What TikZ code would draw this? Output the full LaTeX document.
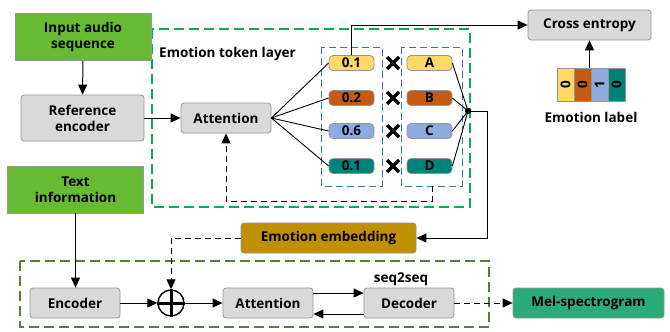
\documentclass[tikz,border=0pt]{standalone}
\usepackage{fontspec}
\setmainfont{Open Sans}
\usepackage{tikz}
\usetikzlibrary{positioning, arrows.meta}

\definecolor{inputgreen}{HTML}{66BB33}
\definecolor{boxgray}{HTML}{D9D9D9}
\definecolor{edgegray}{HTML}{959595}
\definecolor{layergreen}{HTML}{00B050}
\definecolor{seqgreen}{HTML}{548235}
\definecolor{dashblue}{HTML}{2E75B6}
\definecolor{embgold}{HTML}{BF9000}
\definecolor{melgreen}{HTML}{2BAA7A}
\definecolor{tokyellow}{HTML}{FFD966}
\definecolor{tokorange}{HTML}{C55A11}
\definecolor{tokblue}{HTML}{8FAADC}
\definecolor{tokteal}{HTML}{00827A}

\begin{document}
\begin{tikzpicture}[x=1pt, y=-1pt, >={Triangle[length=10pt,width=9pt]},
    every node/.style={font=\bfseries\fontsize{13.5}{16}\selectfont, align=center, inner sep=0pt},
    inbox/.style={draw=edgegray, fill=inputgreen, line width=0.8pt, minimum width=136pt, minimum height=47pt},
    graybox/.style={draw=edgegray, fill=boxgray, line width=0.8pt, rounded corners=3pt, minimum width=90pt, minimum height=30pt},
    token/.style={draw=edgegray, line width=0.8pt, rounded corners=4pt, minimum width=45pt, minimum height=15pt},
    cell/.style={draw=edgegray, line width=0.8pt, minimum width=17pt, minimum height=33pt},
    arr/.style={->, line width=1pt},
    darr/.style={->, line width=1pt, dash pattern=on 6pt off 4pt}]
    \useasboundingbox (0,0) rectangle (670,332);

    % frames
    \draw[layergreen, line width=1.1pt, dash pattern=on 10pt off 5pt] (152,29) rectangle (470,207);
    \draw[seqgreen, line width=1.1pt, dash pattern=on 10pt off 5pt] (20,261) rectangle (489,327);
    \draw[dashblue, line width=0.9pt, dash pattern=on 7pt off 4pt] (321,47) rectangle (382,186);
    \draw[dashblue, line width=0.9pt, dash pattern=on 7pt off 4pt] (401,47) rectangle (462,186);
    \node (layerlabel) [anchor=west] at (159,54) {Emotion token layer};

    % inputs
    \node (audio) [inbox] at (83,37) {Input audio\\sequence};
    \node (refenc) [graybox, minimum width=123pt, minimum height=46pt] at (82.5,118) {Reference\\encoder};
    \node (text) [inbox] at (75.5,189.5) {Text\\information};
    \node (attn) [graybox] at (226,118) {Attention};

    % tokens
    \node (w1) [token, fill=tokyellow] at (351.5,63) {0.1};
    \node (w2) [token, fill=tokorange] at (351.5,98) {0.2};
    \node (w3) [token, fill=tokblue] at (351.5,131) {0.6};
    \node (w4) [token, fill=tokteal] at (351.5,166) {0.1};
    \node (ta) [token, fill=tokyellow] at (429.5,63) {A};
    \node (tb) [token, fill=tokorange] at (429.5,98) {B};
    \node (tc) [token, fill=tokblue] at (429.5,131) {C};
    \node (td) [token, fill=tokteal] at (429.5,166) {D};
    \foreach \y in {63,98,131,166}
        \draw[line width=3.2pt] (387,\y-6) -- (399,\y+6) (387,\y+6) -- (399,\y-6);
    \coordinate (sum) at (468,111);
    \fill (sum) circle (3.2pt);

    % loss
    \node (ce) [graybox, minimum width=123pt] at (589.5,25) {Cross entropy};
    \node (c1) [cell, fill=tokyellow] at (565.5,84.5) {\rotatebox{90}{0}};
    \node (c2) [cell, fill=tokorange] at (582.5,84.5) {\rotatebox{90}{0}};
    \node (c3) [cell, fill=tokblue] at (599.5,84.5) {\rotatebox{90}{1}};
    \node (c4) [cell, fill=tokteal] at (616.5,84.5) {\rotatebox{90}{0}};
    \node (elabel) at (591,117) {Emotion label};

    % synthesis
    \node (emb) [graybox, fill=embgold, minimum width=175pt] at (328.5,238) {Emotion embedding};
    \node (enc) [graybox] at (75,303) {Encoder};
    \node (plus) [circle, draw, line width=1.4pt, minimum size=26pt] at (171,303) {};
    \draw[line width=3pt] (plus.north) -- (plus.south) (plus.west) -- (plus.east);
    \node (attn2) [graybox] at (268,303) {Attention};
    \node (dec) [graybox] at (409,303) {Decoder};
    \node (s2s) at (401,279) {seq2seq};
    \node (mel) [graybox, fill=melgreen, minimum width=151pt] at (588.5,303) {Mel-spectrogram};

    % connectors
    \draw[arr] (audio) -- (refenc);
    \draw[arr] (refenc) -- (attn);
    \foreach \w in {w1,w2,w3,w4} {
        \draw[line width=0.9pt] (attn.east) -- (\w.west);
    }
    \foreach \t in {ta,tb,tc,td} {
        \draw[line width=0.9pt] (\t.east) -- (sum);
    }
    \draw[darr] (432,186) -- (432,201) -| (attn.south);
    \draw[arr] (w1.north) |- (ce.west);
    \draw[arr] (c3.north -| ce.south) -- (ce.south);
    \draw[arr] (sum) -- (487,111) |- (emb.east);
    \draw[darr] (emb.west) -| (plus.north);
    \draw[arr] (text) -- (text.south |- enc.north);
    \draw[arr] (enc) -- (plus);
    \draw[arr] (plus) -- (attn2);
    \draw[arr] ([yshift=10pt]attn2.east) -- ([yshift=10pt]dec.west);
    \draw[arr] ([yshift=-11pt]dec.west) -- ([yshift=-11pt]attn2.east);
    \draw[darr] (dec) -- (mel);
\end{tikzpicture}
\end{document}
